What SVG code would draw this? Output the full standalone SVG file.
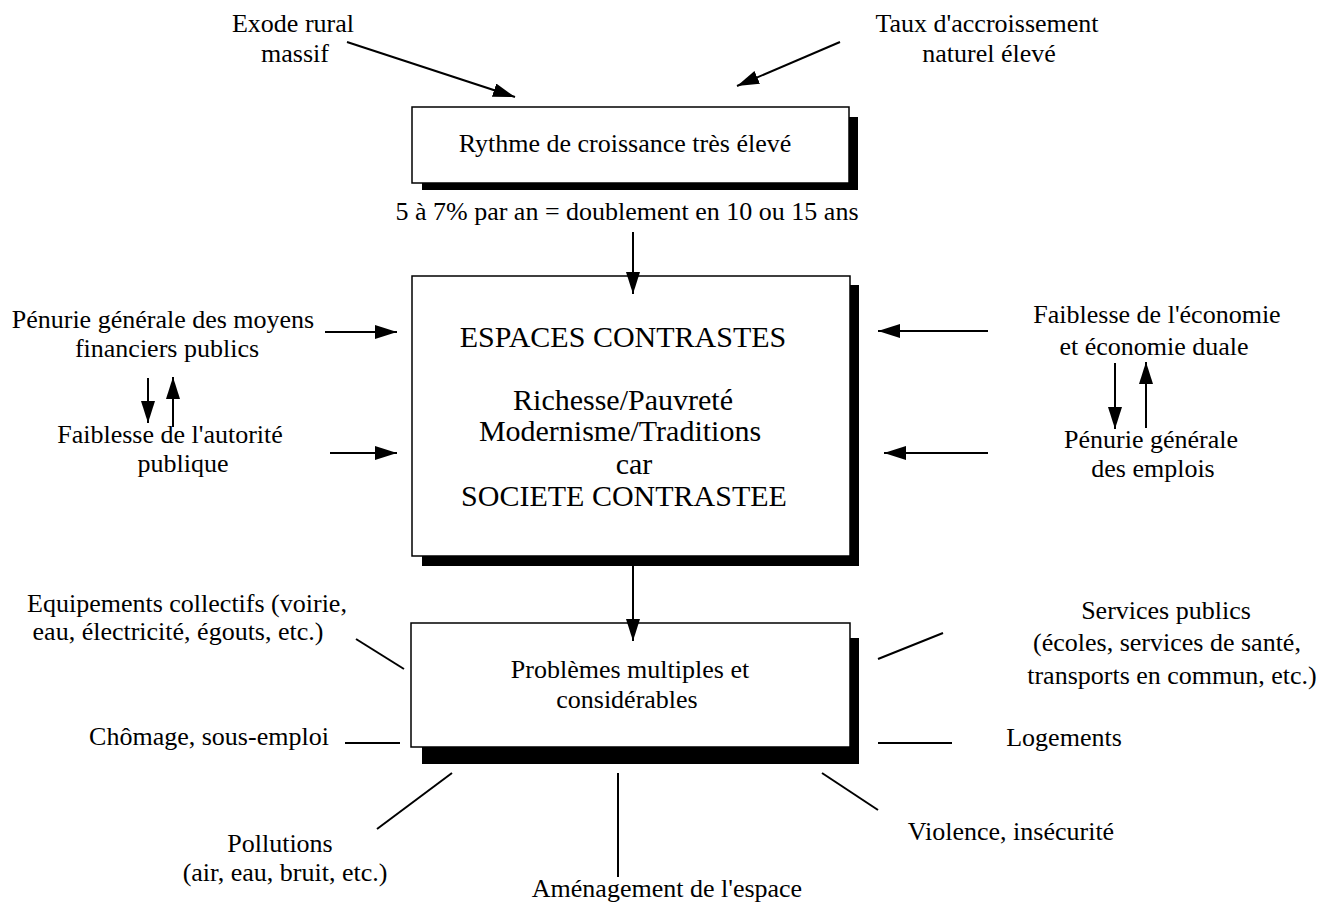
<svg xmlns="http://www.w3.org/2000/svg" width="1334" height="907" viewBox="0 0 1334 907">
<style>
text{font-family:"Liberation Serif","Times New Roman",serif;font-size:26px;fill:#000;text-anchor:middle}
.big{font-size:30px}
.box{fill:#fff;stroke:#000;stroke-width:1.5}
.shadow{fill:#000}
.ln{stroke:#000;stroke-width:2;fill:none}
.ar{stroke:#000;stroke-width:2;fill:none;marker-end:url(#ah)}
</style>
<defs>
<marker id="ah" markerUnits="userSpaceOnUse" markerWidth="24" markerHeight="16" refX="22" refY="7" orient="auto">
<path d="M0,0 L22,7 L0,14 z" fill="#000"/>
</marker>
</defs>
<rect width="1334" height="907" fill="#fff"/>

<g id="n-top">
<rect class="shadow" x="422" y="117" width="436" height="73"/>
<rect class="box" x="412" y="107" width="437" height="76"/>
<text x="625" y="152">Rythme de croissance très élevé</text>
</g>
<g id="n-taux-label"><text x="627" y="220">5 à 7% par an = doublement en 10 ou 15 ans</text></g>

<g id="n-main">
<rect class="shadow" x="422" y="285" width="437" height="281"/>
<rect class="box" x="412" y="276" width="438" height="280"/>
<text class="big" x="623" y="347">ESPACES CONTRASTES</text>
<text class="big" x="623" y="410">Richesse/Pauvreté</text>
<text class="big" x="620" y="441">Modernisme/Traditions</text>
<text class="big" x="634" y="474">car</text>
<text class="big" x="624" y="506">SOCIETE CONTRASTEE</text>
</g>

<g id="n-problems">
<rect class="shadow" x="422" y="638" width="437" height="126"/>
<rect class="box" x="411" y="623" width="439" height="124"/>
<text x="630" y="678">Problèmes multiples et</text>
<text x="627" y="708">considérables</text>
</g>

<g id="n-exode"><text x="293" y="32">Exode rural</text><text x="295" y="62">massif</text></g>
<g id="n-accroissement"><text x="987" y="32">Taux d'accroissement</text><text x="989" y="62">naturel élevé</text></g>
<g id="n-penurie-moyens"><text x="163" y="328">Pénurie générale des moyens</text><text x="167" y="357">financiers publics</text></g>
<g id="n-autorite"><text x="170" y="443">Faiblesse de l'autorité</text><text x="183" y="472">publique</text></g>
<g id="n-economie"><text x="1157" y="323">Faiblesse de l'économie</text><text x="1154" y="355">et économie duale</text></g>
<g id="n-emplois"><text x="1151" y="448">Pénurie générale</text><text x="1153" y="477">des emplois</text></g>
<g id="n-equipements"><text x="187" y="612">Equipements collectifs (voirie,</text><text x="178" y="640">eau, électricité, égouts, etc.)</text></g>
<g id="n-chomage"><text x="209" y="745">Chômage, sous-emploi</text></g>
<g id="n-services"><text x="1166" y="619">Services publics</text><text x="1167" y="651">(écoles, services de santé,</text><text x="1172" y="684">transports en commun, etc.)</text></g>
<g id="n-logements"><text x="1064" y="746">Logements</text></g>
<g id="n-pollutions"><text x="280" y="852">Pollutions</text><text x="285" y="881">(air, eau, bruit, etc.)</text></g>
<g id="n-amenagement"><text x="667" y="897">Aménagement de l'espace</text></g>
<g id="n-violence"><text x="1011" y="840">Violence, insécurité</text></g>

<g id="connectors">
<line class="ar" x1="347" y1="42" x2="515" y2="97"/>
<line class="ar" x1="840" y1="42" x2="737" y2="86"/>
<line class="ar" x1="633" y1="232" x2="633" y2="294"/>
<line class="ar" x1="633" y1="566" x2="633" y2="641"/>
<line class="ar" x1="325" y1="332" x2="397" y2="332"/>
<line class="ar" x1="330" y1="453" x2="397" y2="453"/>
<line class="ar" x1="988" y1="331" x2="878" y2="331"/>
<line class="ar" x1="988" y1="453" x2="884" y2="453"/>
<line class="ar" x1="148" y1="378" x2="148" y2="423"/>
<line class="ar" x1="173" y1="427" x2="173" y2="377"/>
<line class="ar" x1="1115" y1="363" x2="1115" y2="429"/>
<line class="ar" x1="1146" y1="428" x2="1146" y2="362"/>
<line class="ln" x1="356" y1="639" x2="404" y2="669"/>
<line class="ln" x1="345" y1="743" x2="400" y2="743"/>
<line class="ln" x1="878" y1="659" x2="943" y2="633"/>
<line class="ln" x1="878" y1="743" x2="952" y2="743"/>
<line class="ln" x1="452" y1="773" x2="377" y2="829"/>
<line class="ln" x1="618" y1="773" x2="618" y2="877"/>
<line class="ln" x1="822" y1="773" x2="878" y2="810"/>
</g>
</svg>
